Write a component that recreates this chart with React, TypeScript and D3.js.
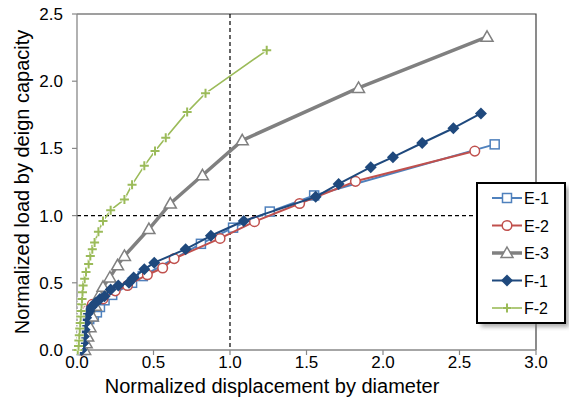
import React from "react";
import * as d3 from "d3";

type Pt = [number, number];

// Pile load tests: normalized displacement (δ/D) vs normalized load (P/Pdesign)
const seriesNames = ["E-1", "E-2", "E-3", "F-1", "F-2"];

const e1: Pt[] = [
  [0.03, 0.0], [0.035, 0.05], [0.04, 0.1], [0.045, 0.15], [0.055, 0.2],
  [0.08, 0.23], [0.11, 0.25], [0.13, 0.28], [0.15, 0.32], [0.18, 0.37],
  [0.23, 0.41], [0.36, 0.5], [0.43, 0.55], [0.81, 0.79], [1.02, 0.91],
  [1.26, 1.03], [1.55, 1.15], [2.73, 1.53],
];

const e2: Pt[] = [
  [0.03, 0.0], [0.04, 0.1], [0.05, 0.2], [0.07, 0.3], [0.1, 0.34],
  [0.17, 0.38], [0.25, 0.44], [0.33, 0.48], [0.46, 0.56], [0.56, 0.61],
  [0.635, 0.68], [0.935, 0.83], [1.16, 0.955], [1.455, 1.09], [1.82, 1.255],
  [2.6, 1.48],
];

const e3: Pt[] = [
  [0.05, 0.0], [0.06, 0.05], [0.07, 0.1], [0.085, 0.17], [0.1, 0.25],
  [0.12, 0.33], [0.145, 0.41], [0.17, 0.47], [0.215, 0.54], [0.265, 0.63],
  [0.31, 0.7], [0.47, 0.9], [0.61, 1.09], [0.82, 1.3], [1.08, 1.56],
  [1.84, 1.95], [2.68, 2.33],
];

const f1: Pt[] = [
  [0.03, 0.0], [0.04, 0.05], [0.045, 0.1], [0.05, 0.15], [0.055, 0.2],
  [0.06, 0.24], [0.07, 0.27], [0.08, 0.29], [0.095, 0.32], [0.12, 0.35],
  [0.15, 0.38], [0.18, 0.4], [0.22, 0.45], [0.27, 0.48], [0.34, 0.5],
  [0.37, 0.54], [0.44, 0.6], [0.505, 0.65], [0.71, 0.75], [0.875, 0.85],
  [1.09, 0.96], [1.56, 1.14], [1.71, 1.236], [1.92, 1.36], [2.065, 1.435],
  [2.256, 1.54], [2.46, 1.65], [2.64, 1.76],
];

const f2: Pt[] = [
  [0.005, 0.0], [0.01, 0.03], [0.012, 0.07], [0.015, 0.11], [0.018, 0.16],
  [0.021, 0.2], [0.024, 0.25], [0.027, 0.29], [0.03, 0.34], [0.033, 0.38],
  [0.036, 0.43], [0.04, 0.48], [0.05, 0.53], [0.059, 0.58], [0.076, 0.64],
  [0.087, 0.7], [0.1, 0.75], [0.115, 0.8], [0.14, 0.88], [0.17, 0.96],
  [0.22, 1.04], [0.31, 1.12], [0.36, 1.23], [0.44, 1.37], [0.51, 1.48],
  [0.58, 1.58], [0.72, 1.77], [0.84, 1.91], [1.24, 2.23],
];

const xTicks = [0, 0.5, 1.0, 1.5, 2.0, 2.5, 3.0];
const yTicks = [0, 0.5, 1.0, 1.5, 2.0, 2.5];

const W = 569;
const H = 405;
const plot = { left: 77, right: 536, top: 14, bottom: 350 };

const x = d3.scaleLinear().domain([0, 3]).range([plot.left, plot.right]);
const y = d3.scaleLinear().domain([0, 2.5]).range([plot.bottom, plot.top]);

type Marker = "square" | "circle" | "triangle" | "diamond" | "plus";

const styles: { color: string; width: number; marker: Marker }[] = [
  { color: "#4F81BD", width: 2, marker: "square" },
  { color: "#C0504D", width: 2, marker: "circle" },
  { color: "#808080", width: 3.5, marker: "triangle" },
  { color: "#1F497D", width: 2, marker: "diamond" },
  { color: "#9BBB59", width: 1.6, marker: "plus" },
];

const allSeries = [e1, e2, e3, f1, f2];

const line = d3
  .line<Pt>()
  .x((d) => x(d[0]))
  .y((d) => y(d[1]));

function MarkerShape({ kind, cx, cy, color }: { kind: Marker; cx: number; cy: number; color: string }) {
  switch (kind) {
    case "square":
      return <rect x={cx - 4.5} y={cy - 4.5} width={9} height={9} fill="#fff" stroke={color} strokeWidth={1.5} />;
    case "circle":
      return <circle cx={cx} cy={cy} r={4.8} fill="#fff" stroke={color} strokeWidth={1.5} />;
    case "triangle":
      return (
        <path
          d={`M${cx},${cy - 6} L${cx + 6},${cy + 4.5} L${cx - 6},${cy + 4.5} Z`}
          fill="#fff"
          stroke={color}
          strokeWidth={1.5}
        />
      );
    case "diamond":
      return <path d={`M${cx},${cy - 6} L${cx + 6},${cy} L${cx},${cy + 6} L${cx - 6},${cy} Z`} fill={color} />;
    case "plus":
      return (
        <g>
          <path d={`M${cx - 4.5},${cy} H${cx + 4.5} M${cx},${cy - 4.5} V${cy + 4.5}`} stroke="#fff" strokeWidth={4} />
          <path d={`M${cx - 4.5},${cy} H${cx + 4.5} M${cx},${cy - 4.5} V${cy + 4.5}`} stroke={color} strokeWidth={2} />
        </g>
      );
  }
}

const font = "'Liberation Sans', Arial, Helvetica, sans-serif";

export default function App() {
  const legend = { x: 477, y: 183, w: 88, h: 140 };
  return (
    <svg
      width={W}
      height={H}
      viewBox={`0 0 ${W} ${H}`}
      style={{ position: "fixed", left: 0, top: 0, background: "#fff" }}
      fontFamily={font}
    >
      <defs>
        <filter id="legendShadow" x="-20%" y="-20%" width="140%" height="140%">
          <feGaussianBlur stdDeviation="2" />
        </filter>
      </defs>
      <rect width={W} height={H} fill="#fff" />

      {/* frame: top and right edges */}
      <path
        d={`M${plot.left},${plot.top} H${plot.right} V${plot.bottom}`}
        fill="none"
        stroke="#404040"
        strokeWidth={1.2}
      />

      {/* reference lines at 1.0 */}
      <line x1={x(1)} x2={x(1)} y1={plot.top} y2={plot.bottom} stroke="#000" strokeWidth={1.2} strokeDasharray="4,3" />
      <line x1={plot.left} x2={plot.right} y1={y(1)} y2={y(1)} stroke="#000" strokeWidth={1.2} strokeDasharray="4,3" />

      {/* y axis */}
      <line x1={plot.left} x2={plot.left} y1={plot.top} y2={plot.bottom} stroke="#888" strokeWidth={1.3} />
      {yTicks.map((t) => (
        <g key={`y${t}`}>
          <line x1={plot.left - 5} x2={plot.left} y1={y(t)} y2={y(t)} stroke="#888" strokeWidth={1.2} />
          <text x={plot.left - 14} y={y(t) + 6} textAnchor="end" fontSize={17} fill="#000">
            {t.toFixed(1)}
          </text>
        </g>
      ))}

      {/* x axis */}
      <line x1={plot.left} x2={plot.right} y1={plot.bottom} y2={plot.bottom} stroke="#888" strokeWidth={1.3} />
      {xTicks.map((t) => (
        <g key={`x${t}`}>
          <line x1={x(t)} x2={x(t)} y1={plot.bottom} y2={plot.bottom + 5} stroke="#888" strokeWidth={1.2} />
          <text x={x(t)} y={plot.bottom + 18} textAnchor="middle" fontSize={17} fill="#000">
            {t.toFixed(1)}
          </text>
        </g>
      ))}

      <text x={272} y={393} textAnchor="middle" fontSize={20} fill="#000">
        Normalized displacement by diameter
      </text>
      <text
        transform={`translate(29, ${(plot.top + plot.bottom) / 2}) rotate(-90)`}
        textAnchor="middle"
        fontSize={20}
        fill="#000"
      >
        Normalized load by deign capacity
      </text>

      {/* series */}
      {allSeries.map((data, i) => {
        const s = styles[i];
        return (
          <g key={seriesNames[i]}>
            <path d={line(data) ?? ""} fill="none" stroke={s.color} strokeWidth={s.width} strokeLinejoin="round" />
            {data.map((d, j) => (
              <MarkerShape key={j} kind={s.marker} cx={x(d[0])} cy={y(d[1])} color={s.color} />
            ))}
          </g>
        );
      })}

      {/* legend */}
      <rect
        x={legend.x + 4}
        y={legend.y + 4}
        width={legend.w}
        height={legend.h}
        fill="#777"
        opacity={0.6}
        filter="url(#legendShadow)"
      />
      <rect x={legend.x} y={legend.y} width={legend.w} height={legend.h} fill="#fff" stroke="#000" strokeWidth={2} />
      {seriesNames.map((name, i) => {
        const s = styles[i];
        const cy = legend.y + 15 + i * 27.5;
        return (
          <g key={`lg${name}`}>
            <line x1={legend.x + 15} x2={legend.x + 45} y1={cy} y2={cy} stroke={s.color} strokeWidth={s.width} />
            <MarkerShape kind={s.marker} cx={legend.x + 30} cy={cy} color={s.color} />
            <text x={legend.x + 47} y={cy + 6} fontSize={16} fill="#000">
              {name}
            </text>
          </g>
        );
      })}
    </svg>
  );
}
